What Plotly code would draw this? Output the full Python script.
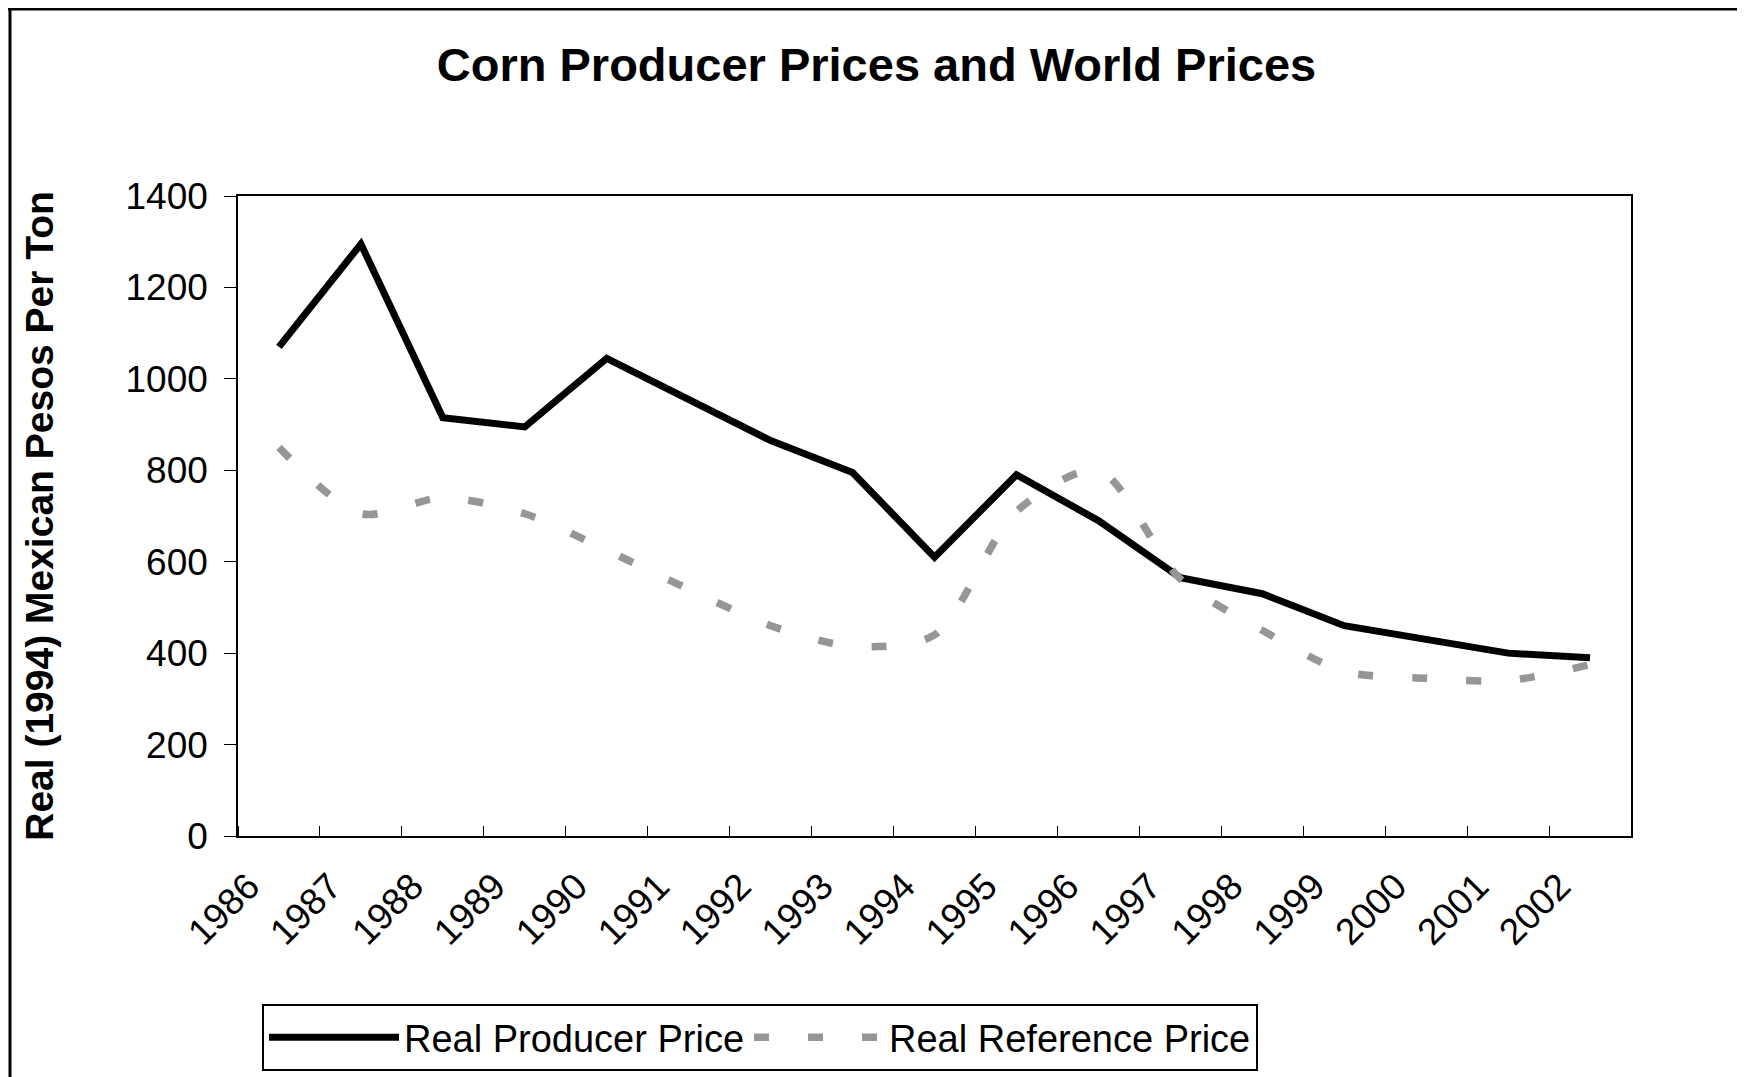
import plotly.graph_objects as go

years = [1986, 1987, 1988, 1989, 1990, 1991, 1992, 1993, 1994,
         1995, 1996, 1997, 1998, 1999, 2000, 2001, 2002]
year_labels = [str(y) for y in years]
producer_price = [1070, 1295, 915, 895, 1045, 955, 865, 795, 610,
                  790, 690, 565, 530, 460, 430, 400, 390]
reference_price = [850, 705, 740, 705, 625, 540, 460, 415, 440,
                   710, 800, 562, 450, 360, 345, 340, 375]
y_ticks = [0, 200, 400, 600, 800, 1000, 1200, 1400]

FONT = "Liberation Sans, Arial, sans-serif"
W, H = 1737, 1069
L, R, T, B = 230, 114, 188, 241
PW, PH = W - L - R, H - T - B
LABEL_SHIFT = 0.37  # tick labels sit left of the category centre, as in the original

fig = go.Figure()
fig.add_trace(go.Scatter(
    x=years, y=producer_price, mode="lines", name="Real Producer Price",
    line=dict(color="#000000", width=7),
))
fig.add_trace(go.Scatter(
    x=years, y=reference_price, mode="lines", name="Real Reference Price",
    line=dict(color="#969696", width=7.5, dash="15px,39px", shape="spline", smoothing=0.8),
))

fig.update_layout(
    width=W, height=H,
    margin=dict(l=L, r=R, t=T, b=B, autoexpand=False),
    paper_bgcolor="white", plot_bgcolor="white",
    font=dict(family=FONT, color="black", size=37),
    title=dict(text="<b>Corn Producer Prices and World Prices</b>",
               x=0.5, xref="container", xanchor="center",
               y=1 - 56.5 / H, yref="container", yanchor="middle",
               font=dict(size=47, family=FONT, color="black")),
    showlegend=True,
    legend=dict(orientation="h", x=(254 - L) / PW, xanchor="left",
                y=(PH - (996 - T)) / PH, yanchor="top",
                bordercolor="black", borderwidth=2, font=dict(size=38, family=FONT),
                itemwidth=130, bgcolor="white"),
    shapes=[
        dict(type="line", xref="paper", yref="paper", x0=-0.3, x1=1.3,
             y0=(PH + T - 1) / PH, y1=(PH + T - 1) / PH, line=dict(color="black", width=3)),
        dict(type="line", xref="paper", yref="paper", x0=(2 - L) / PW, x1=(2 - L) / PW,
             y0=-0.6, y1=1.6, line=dict(color="black", width=3)),
    ],
)

fig.update_xaxes(
    range=[years[0] - 0.5, years[-1] + 0.5],
    tickvals=[y - LABEL_SHIFT for y in years], ticktext=year_labels,
    tickangle=-45, ticks="", ticklabelstandoff=12, automargin=False,
    minor=dict(ticks="inside", ticklen=10, tickcolor="black", tickwidth=1,
               tick0=years[0] - 0.5, dtick=1, showgrid=False),
    showline=True, linecolor="black", linewidth=1.5, mirror=True,
    showgrid=False, zeroline=False,
    tickfont=dict(size=37, family=FONT),
)
fig.update_yaxes(
    range=[0, 1400], tickvals=y_ticks, ticks="outside", ticklen=12,
    tickcolor="black", tickwidth=1, automargin=False,
    showline=True, linecolor="black", linewidth=1.5, mirror=True,
    showgrid=False, zeroline=False, ticklabelstandoff=9,
    tickfont=dict(size=37, family=FONT),
    title=dict(text="<b>Real (1994) Mexican Pesos Per Ton</b>",
               font=dict(size=39, family=FONT), standoff=60),
)

fig.write_html("out.html")
